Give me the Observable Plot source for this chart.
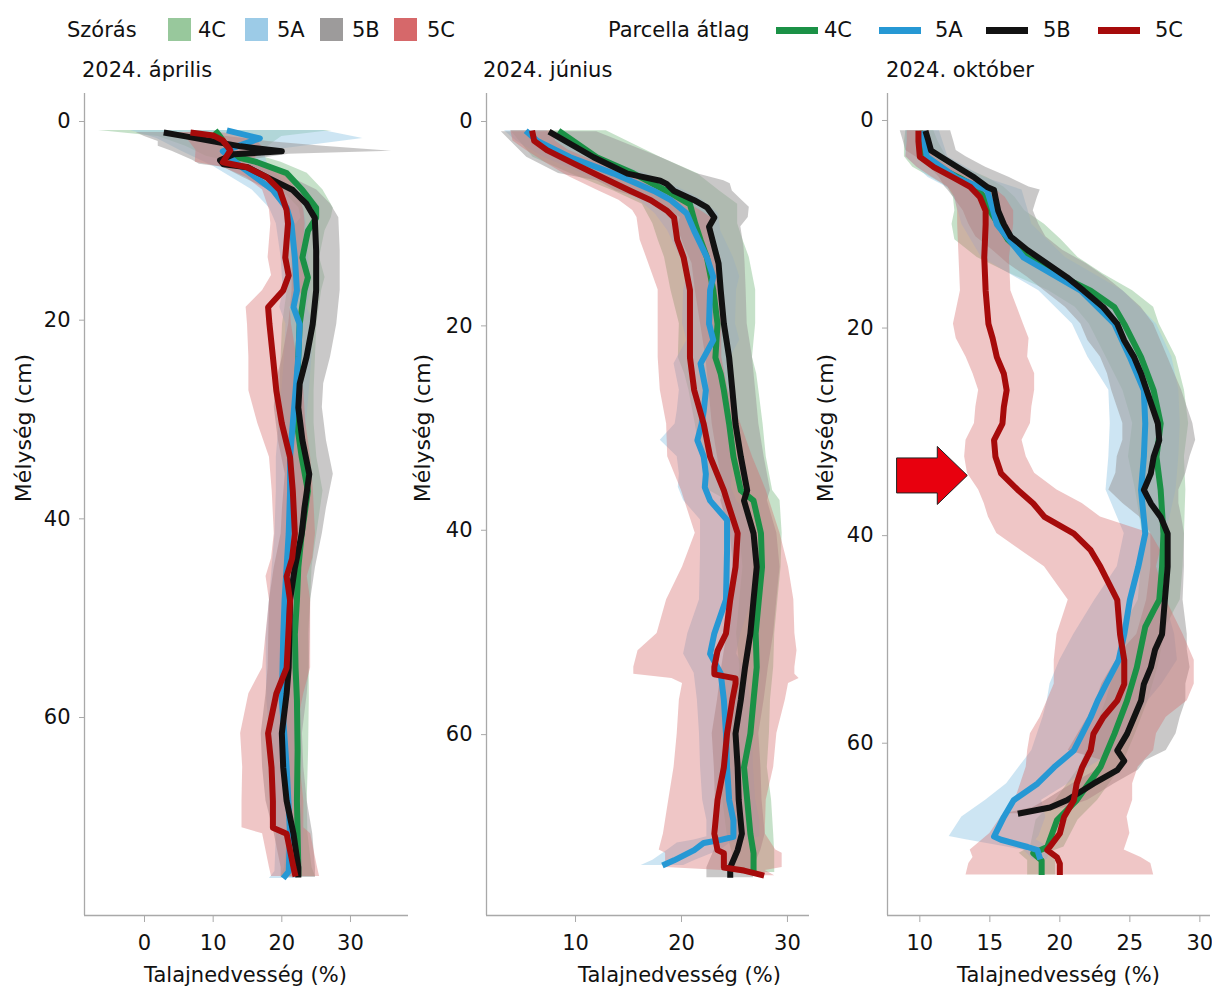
<!DOCTYPE html>
<html lang="hu">
<head>
<meta charset="utf-8">
<title>Talajnedvesség profilok 2024</title>
<script src="https://cdn.jsdelivr.net/npm/d3@7"></script>
<script src="https://cdn.jsdelivr.net/npm/@observablehq/plot@0.6"></script>
<style>
  html, body { margin: 0; padding: 0; background: #fff; }
  #root { position: relative; width: 1212px; height: 987px; overflow: hidden; font-family: "DejaVu Sans", sans-serif; }
  #root .panel { position: absolute; top: 80px; }
  #root .panel svg { overflow: visible; }
  #overlay { position: absolute; left: 0; top: 0; }
</style>
</head>
<body>
<div id="root"></div>
<script>
// ---------------- DATA ----------------
// each row: [depth (cm), mean soil moisture (%), standard deviation (%)]
const seriesNames = ["4C", "5A", "5B", "5C"];
const panelTitles = ["2024. április", "2024. június", "2024. október"];
const xLabel = "Talajnedvesség (%)";
const yLabel = "Mélység (cm)";
const legendBandTitle = "Szórás";
const legendLineTitle = "Parcella átlag";
const xTicksApr = [0, 10, 20, 30];
const xTicksJun = [10, 20, 30];
const xTicksOct = [10, 15, 20, 25, 30];
const yTicks = [0, 20, 40, 60];
// highlighted zone in October: [moisture, depth]
const arrowMark = [[10.86, 34.2]];

// --- 2024. április ---
const apr4C = [[0.9,10.3,17],[1.5,11,9],[2.5,12,6],[3.5,13,4],[4.1,16.4,3.5],[5.2,20.7,3],[6.9,23,3],[8.7,25,2.5],[9.7,25,2.2],[11,23.8,2.5],[13.7,23,2.5],[15.7,23.8,2.5],[17,23.3,2.5],[20.4,22.6,2.5],[23.7,22.4,2.5],[27.1,22.2,2.5],[30.4,22.2,2.5],[33.8,22.9,2.2],[37.2,23.8,2.2],[41.5,22.9,2.2],[44.9,22.4,2],[48.2,22.2,2],[51.6,21.9,2],[55,22,2],[58.2,22.2,1.8],[63.3,22.3,1.6],[68.4,22.2,1.5],[71.7,22.3,1.5],[75.1,22.4,2],[76,22.4,2.5]];
const apr5A = [[0.9,12,14],[1.7,16.8,15],[3,11.4,6],[4.5,14,4],[6.9,18.7,3],[8.7,20.7,2.5],[10.3,21.4,2.2],[13.7,21.9,2],[17,22.2,2],[18.7,21.7,2],[20.4,22.6,2],[23.7,22.4,2],[27.1,22,2],[30.4,21.6,2],[33.8,21.2,2],[37.2,21.2,2],[41.5,21,2],[48.2,20.4,2.2],[52,20.2,2.5],[58.2,20,2.2],[65,20.7,2],[71.7,21.2,2],[75.5,21,2],[76.2,20.2,2]];
const apr5B = [[1.1,2.8,4],[1.5,6,6],[2,10,8],[2.5,14,12],[3,20,16],[3.3,13,8],[3.9,11,4],[4.3,11.5,3.5],[4.6,15,3.5],[5.6,17.8,3.5],[6.9,21.6,3.5],[8.3,23.6,3.5],[9.7,24.8,3.5],[13,25,3.5],[17,25,3.5],[20.4,24.5,3.5],[23.7,23.6,3.5],[26.4,22.6,3.5],[28.8,22.4,3.5],[32.1,23,3.5],[35.5,24,3.5],[38.9,23.3,3.2],[41.5,22.9,3],[44.9,21.9,3],[48.2,21.2,3],[51.6,21.1,3],[55,21,3],[57.6,20.7,3],[61.6,20,3],[65,20.2,3],[68.4,20.7,3],[71.7,21.7,2.8],[75.1,22.4,2.5],[76.1,22.4,2.5]];
const apr5C = [[1.1,6.7,4],[1.4,10,5],[1.9,11.4,5],[2.9,12.5,5],[4.1,11.4,4],[4.6,14.9,3.5],[5.6,17.8,3],[6.9,19.7,2.5],[8.9,20.7,2.5],[10.3,20.9,2.5],[13.7,20.5,2.5],[15.5,21,2.5],[17,20.2,3],[18.7,18,3.2],[20.4,18.2,3.2],[23.7,18.7,3.5],[27.1,19.2,4],[30.4,20,3.5],[33.8,21.2,3],[37.2,21.6,3],[41.5,21.9,3],[44,21.5,3],[45.8,20.7,3],[48.2,21.2,3],[55,20.7,3.5],[57.6,19.2,4],[61.6,18,4],[65,18.5,4.2],[68.4,18.7,4.5],[71.1,18.7,4.5],[71.7,20.7,3.5],[75.1,21.7,3.5],[76,22,3.5]];

// --- 2024. június ---
const jun4C = [[0.9,8.4,4.5],[3.5,12,6],[5.1,15.5,6],[6.8,18.6,5],[8.1,20.8,4.5],[10,21.3,4],[11.6,21.8,4],[13.3,22.4,4],[16.5,23,4],[19.8,23.4,3.6],[23.1,23.2,3.5],[24.7,23.7,3.4],[26.3,24,3.3],[29.6,24.5,3.2],[32.8,24.9,3.1],[36.1,25.6,3],[37.1,26.8,2.5],[40.3,27.5,2],[43.6,27.6,1.8],[46.8,27.3,1.8],[50.1,27,1.8],[53.4,27.1,1.6],[56.6,26.8,1.6],[59.9,26.5,1.8],[63.2,25.9,2.2],[66.4,26.2,2.3],[69.7,26.5,2.2],[71.6,26.8,2],[73.5,26.8,2]];
const jun5A = [[0.9,5.3,2],[1.9,6.4,2],[3.5,9.5,2.5],[5.1,13.6,3],[6.8,17.4,3],[7.7,19,3],[9,20.5,3],[10.7,21.2,2.5],[13.3,22.4,2.5],[15.2,23,2.5],[16.5,22.7,2.5],[19.8,22.6,2.5],[21.4,23,2.5],[23.7,21.8,2.5],[26.3,22.3,2.5],[28.3,22.1,2.5],[29.6,21.9,2.5],[31.2,21.5,3.5],[32.8,22.1,2.5],[34.5,22.3,2.5],[35.8,22.2,2.5],[37.1,22.7,2.5],[39,24.3,2.5],[42,24.3,2.5],[46.8,24.2,2.5],[50.1,23.1,2.5],[52.1,22.7,2.5],[54,23.7,2.5],[56.6,24,2.5],[59.9,24.2,2.5],[63.2,24.3,2.5],[66.4,24.5,2.5],[68.4,24.9,2.5],[70,24.9,2.5],[70.3,23.7,2.5],[70.6,22.1,2.5],[71.3,21.2,2.5],[72.3,19.3,2],[72.8,18.2,2]];
const jun5B = [[1,7.5,4.5],[3.5,11.7,6.3],[5.1,14.9,6.5],[5.8,18,6],[6.1,18.6,6],[6.8,19.3,5.5],[7.7,21.2,4.5],[8.4,22.4,4],[9.4,23.1,3.2],[10.3,22.6,3],[12.3,23.1,2.8],[13.9,23.5,2.5],[16.5,23.7,2.4],[19.8,24,2.2],[23.1,24.5,2.2],[26.3,24.8,2.2],[29.6,25.1,2.2],[32.8,25.6,2.2],[36.1,26.2,2.2],[37.1,25.9,2.2],[40.3,26.8,2.2],[43.6,27.1,2.2],[46.8,26.8,2.2],[50.1,26.5,2.2],[53.4,26,2.2],[56.6,25.6,2.2],[59.9,25.1,2.2],[63.2,25.3,2.2],[66.4,25.4,2.2],[69.7,25.7,2.2],[71.3,25.3,2.2],[73,24.6,2.2],[74,24.6,2.2]];
const jun5C = [[0.9,5.9,2],[1.9,6.1,2],[2.8,7.3,2],[4.1,9.8,2.5],[5.4,12.4,3],[6.8,15.2,3],[7.7,17.1,3],[8.7,18.6,3.2],[9.4,19.3,3.5],[11.6,19.6,3.5],[13.3,20.2,3.5],[16.5,20.8,3],[19.8,20.8,3],[23.1,20.8,3],[26.3,21.2,3.2],[29.6,22.1,3.5],[32.8,22.7,4],[36.1,24,4],[37.1,24.3,4],[40.3,25.3,4],[43.6,25.1,5],[46.8,24.6,6],[50.1,24.2,6.5],[51.8,23.4,7.5],[53.4,23.1,7.6],[54.1,23.1,7.6],[54.5,25.1,6],[55,25.1,5],[56.6,24.8,5],[59.9,24.3,4.7],[63.2,24,4.7],[66.4,23.4,4.6],[69.7,23.1,4.8],[71.3,23.4,5.5],[71.6,24,5.5],[73,24,5.5],[73.3,25.9,2],[73.8,27.8,1]];

// --- 2024. október ---
const oct4C = [[1,10,1],[2,10.1,1.2],[3.5,10.4,1.5],[4.5,11.3,1.8],[5.5,12.8,2],[6.4,14,2],[7.4,14.6,2.2],[8.7,15,2.5],[10,15.6,3.3],[11.5,16.3,3.8],[13.2,17.7,3.6],[14.8,19.8,3.3],[16.4,22.2,3],[18,23.9,2.8],[19.6,24.6,2.5],[22.8,25.8,2.5],[26,26.7,2.2],[29.2,27.2,2],[32.4,26.9,2],[35.6,27.2,1.8],[39.8,27.4,1.5],[43,27.3,1.5],[46.2,27.1,1.5],[47.2,26.7,1.5],[48.8,26.1,1.5],[52.7,25.5,1.5],[55.9,24.8,1.5],[59.1,23.9,1.5],[62.3,22.9,1.5],[65.5,21.2,1.5],[67.4,19.8,1.5],[70,19.1,1.2],[70.6,18.1,1],[71.3,18.7,1],[72.7,18.7,1]];
const oct5A = [[1,10.2,1.2],[3.5,10.5,1.5],[5.5,12.6,2],[6.7,14.8,2.5],[8.5,15.2,2.5],[10,15.5,2.5],[13.2,17.4,3],[16.4,21.5,3],[19.6,23.9,3],[22.8,25,3],[26,26,2.5],[29.2,26.1,2.5],[32.4,26,2.5],[35.6,25.8,2.5],[39.8,26.1,1.5],[43,25.6,1.5],[46.2,25,2.5],[49.5,24.6,3.6],[52,24.2,4.2],[54.3,23.3,4],[55.9,22.7,3.6],[57.5,22.2,3.4],[59.1,21.6,3.2],[60.7,21,3],[62.3,19.6,2.5],[63.9,18.4,2.2],[65.5,16.7,2],[67.1,16,3],[69,15.3,3.2],[69.3,15.8,2.5],[70,17.7,1.5],[70.3,18.4,1],[71.2,18.6,0.5]];
const oct5B = [[1,10.4,1.8],[1.9,10.6,1.8],[2.9,10.8,1.8],[3.5,11.5,1.8],[4.5,12.7,2],[5.5,13.9,2.5],[6.4,14.8,3],[6.7,15.3,3.3],[7.4,15.4,3],[8.7,15.6,2.5],[10,16,2.5],[11.2,16.5,2.5],[12.5,17.7,2.5],[13.8,19.1,2.8],[15.1,20.5,2.8],[16.4,21.7,2.8],[18,23.1,2.7],[19.6,24.1,2.6],[21.2,24.6,2.6],[22.8,25.3,2.4],[24.4,25.8,2.4],[26,26.2,2.5],[27.6,26.6,2.5],[29.2,27,2.5],[30.8,27.1,2.6],[32.4,26.7,2.6],[34,26.5,2.5],[35.6,26,2.5],[36.9,26.5,2],[38.2,27.2,1.5],[39.8,27.7,1.2],[43,27.7,1.2],[46.2,27.5,1.3],[49.5,27.3,1.8],[51,26.8,2.3],[52.7,26.5,2.8],[54.3,26,3],[55.9,25.8,3.2],[57.5,25.3,3.3],[59.1,24.8,3.5],[60.7,24.1,3.5],[61.7,24.6,1.5],[62.6,24.1,1.5],[63.9,22.4,1.5],[65.5,20.5,1.5],[66.2,19.3,1.2],[66.8,17,1]];
const oct5C = [[1,9.9,0.8],[2,9.9,0.8],[3.5,10,1],[4.5,11,1.2],[5.5,12.4,1.5],[6.4,13.6,1.6],[7.4,14.3,1.8],[8.7,14.7,2],[10,14.7,2],[13.2,14.6,1.8],[16.4,14.7,1.8],[19.6,14.9,2.5],[21,15.2,2.6],[22.8,15.5,2.2],[24.4,16,2.2],[26,16.2,2],[27.6,16,2],[29.2,15.9,2],[30.8,15.3,2],[32.4,15.4,2.2],[34,15.8,2.4],[35.6,17,2.8],[36.9,18.1,3.5],[38.2,18.9,4],[39.8,21,5.5],[41.4,22.2,5],[43,22.9,4],[46.2,24.1,3.5],[49.5,24.3,4.5],[52,24.6,5],[54.3,24.6,5],[55.9,24.1,5],[57.5,23.1,4.5],[59.1,22.4,4.5],[60.7,22.2,4.5],[62.3,21.6,4],[63.9,21.2,4],[65.5,21,4.2],[67.1,20.3,4.5],[68.7,20,5],[70.3,19.1,5.5],[71,19.8,6],[71.6,20,6.5],[72.7,20,6.7]];

// ---------------- STYLE / LAYOUT ----------------
const bandColors = ["#98c89c", "#9ccbe7", "#9d9b9b", "#d6686a"];
const bandOpacity = [0.55, 0.5, 0.55, 0.38];
const lineColors = ["#1b9146", "#2698d4", "#121212", "#a60b0b"];
const fontFamily = "DejaVu Sans";
const axisGray = "#a9a9a9";

const panels = [
  {title: panelTitles[0], series: [apr4C, apr5A, apr5B, apr5C], xTicks: xTicksApr,
   left: 0, width: 420, marginLeft: 84, marginRight: 12, xDomain: [-8.74, 38.45], yDomain: [-2.82, 79.93],
   titleX: 82, yLabelX: 23, xLabelX: 245.5, arrow: false},
  {title: panelTitles[1], series: [jun4C, jun5A, jun5B, jun5C], xTicks: xTicksJun,
   left: 420, width: 400, marginLeft: 66, marginRight: 11, xDomain: [1.6, 32.08], yDomain: [-2.74, 77.7],
   titleX: 483, yLabelX: 422, xLabelX: 679.5, arrow: false},
  {title: panelTitles[2], series: [oct4C, oct5A, oct5B, oct5C], xTicks: xTicksOct,
   left: 820, width: 392, marginLeft: 67, marginRight: 2, xDomain: [7.69, 30.76], yDomain: [-2.6, 76.6],
   titleX: 886, yLabelX: 825, xLabelX: 1058.5, arrow: true}
];

// custom block-arrow symbol (size -> radius r)
const blockArrow = {
  draw(context, size) {
    const s = Math.sqrt(size / Math.PI) / 10;
    context.moveTo(-35.3 * s, -17.5 * s);
    context.lineTo(5.4 * s, -17.5 * s);
    context.lineTo(5.4 * s, -29 * s);
    context.lineTo(35.4 * s, 0);
    context.lineTo(5.4 * s, 29 * s);
    context.lineTo(5.4 * s, 17.5 * s);
    context.lineTo(-35.3 * s, 17.5 * s);
    context.closePath();
  }
};

const root = document.getElementById("root");

panels.forEach((p) => {
  const marks = [];
  p.series.forEach((rows, i) => {
    marks.push(Plot.areaX(rows, {
      y: (d) => d[0], x1: (d) => d[1] - d[2], x2: (d) => d[1] + d[2],
      fill: bandColors[i], fillOpacity: bandOpacity[i], curve: "linear"
    }));
  });
  p.series.forEach((rows, i) => {
    marks.push(Plot.line(rows, {
      x: (d) => d[1], y: (d) => d[0],
      stroke: lineColors[i], strokeWidth: 6, strokeLinejoin: "round", strokeLinecap: "butt"
    }));
  });
  if (p.arrow) {
    marks.push(Plot.dot(arrowMark, {
      x: (d) => d[0], y: (d) => d[1], r: 10, symbol: blockArrow,
      fill: "#e8000e", stroke: "#222", strokeWidth: 1
    }));
  }
  marks.push(Plot.ruleX([p.xDomain[0]], {stroke: axisGray, strokeWidth: 1.3}));
  marks.push(Plot.ruleY([p.yDomain[1]], {stroke: axisGray, strokeWidth: 1.3}));
  marks.push(Plot.axisX(p.xTicks, {tickSize: 7, tickPadding: 13, label: null, stroke: axisGray, fill: "#111", fontSize: 21}));
  marks.push(Plot.axisY(yTicks, {tickSize: 5, tickPadding: 9, label: null, stroke: axisGray, fill: "#111", fontSize: 21}));

  const chart = Plot.plot({
    width: p.width,
    height: 907,
    marginLeft: p.marginLeft,
    marginRight: p.marginRight,
    marginTop: 13,
    marginBottom: 72,
    x: {domain: p.xDomain},
    y: {domain: p.yDomain, reverse: true},
    style: {fontFamily, fontSize: "21px", color: "#111", background: "transparent"},
    marks
  });
  const wrap = document.createElement("div");
  wrap.className = "panel";
  wrap.style.left = p.left + "px";
  wrap.appendChild(chart);
  root.appendChild(wrap);
});

// ---------------- TEXT OVERLAY: legend, titles, axis labels ----------------
const svg = d3.create("svg")
  .attr("id", "overlay")
  .attr("width", 1212).attr("height", 987)
  .style("font-family", fontFamily)
  .style("pointer-events", "none");

// legend: standard deviation swatches
svg.append("text").attr("x", 67).attr("y", 37).attr("font-size", 21).attr("fill", "#111").text(legendBandTitle);
const bandSwatchX = [168, 245, 320, 394];
const bandTextX = [198, 277, 352, 427];
seriesNames.forEach((name, i) => {
  svg.append("rect").attr("x", bandSwatchX[i]).attr("y", 18).attr("width", 23).attr("height", 23).attr("fill", bandColors[i]);
  svg.append("text").attr("x", bandTextX[i]).attr("y", 37).attr("font-size", 21).attr("fill", "#111").text(name);
});
// legend: plot means
svg.append("text").attr("x", 608).attr("y", 37).attr("font-size", 21).attr("fill", "#111").text(legendLineTitle);
const lineSwatchX = [776, 879, 986, 1098];
const lineTextX = [824, 935, 1043, 1155];
seriesNames.forEach((name, i) => {
  svg.append("rect").attr("x", lineSwatchX[i]).attr("y", 27).attr("width", 42).attr("height", 7).attr("fill", lineColors[i]);
  svg.append("text").attr("x", lineTextX[i]).attr("y", 37).attr("font-size", 21).attr("fill", "#111").text(name);
});

panels.forEach((p) => {
  svg.append("text").attr("x", p.titleX).attr("y", 77).attr("font-size", 21).attr("fill", "#111").text(p.title);
  svg.append("text").attr("x", p.xLabelX).attr("y", 982).attr("font-size", 21).attr("fill", "#111")
    .attr("text-anchor", "middle").text(xLabel);
  svg.append("text")
    .attr("transform", `translate(${p.yLabelX},428) rotate(-90)`)
    .attr("font-size", 22).attr("fill", "#111")
    .attr("text-anchor", "middle").attr("dominant-baseline", "central")
    .text(yLabel);
});

root.appendChild(svg.node());
</script>
</body>
</html>
